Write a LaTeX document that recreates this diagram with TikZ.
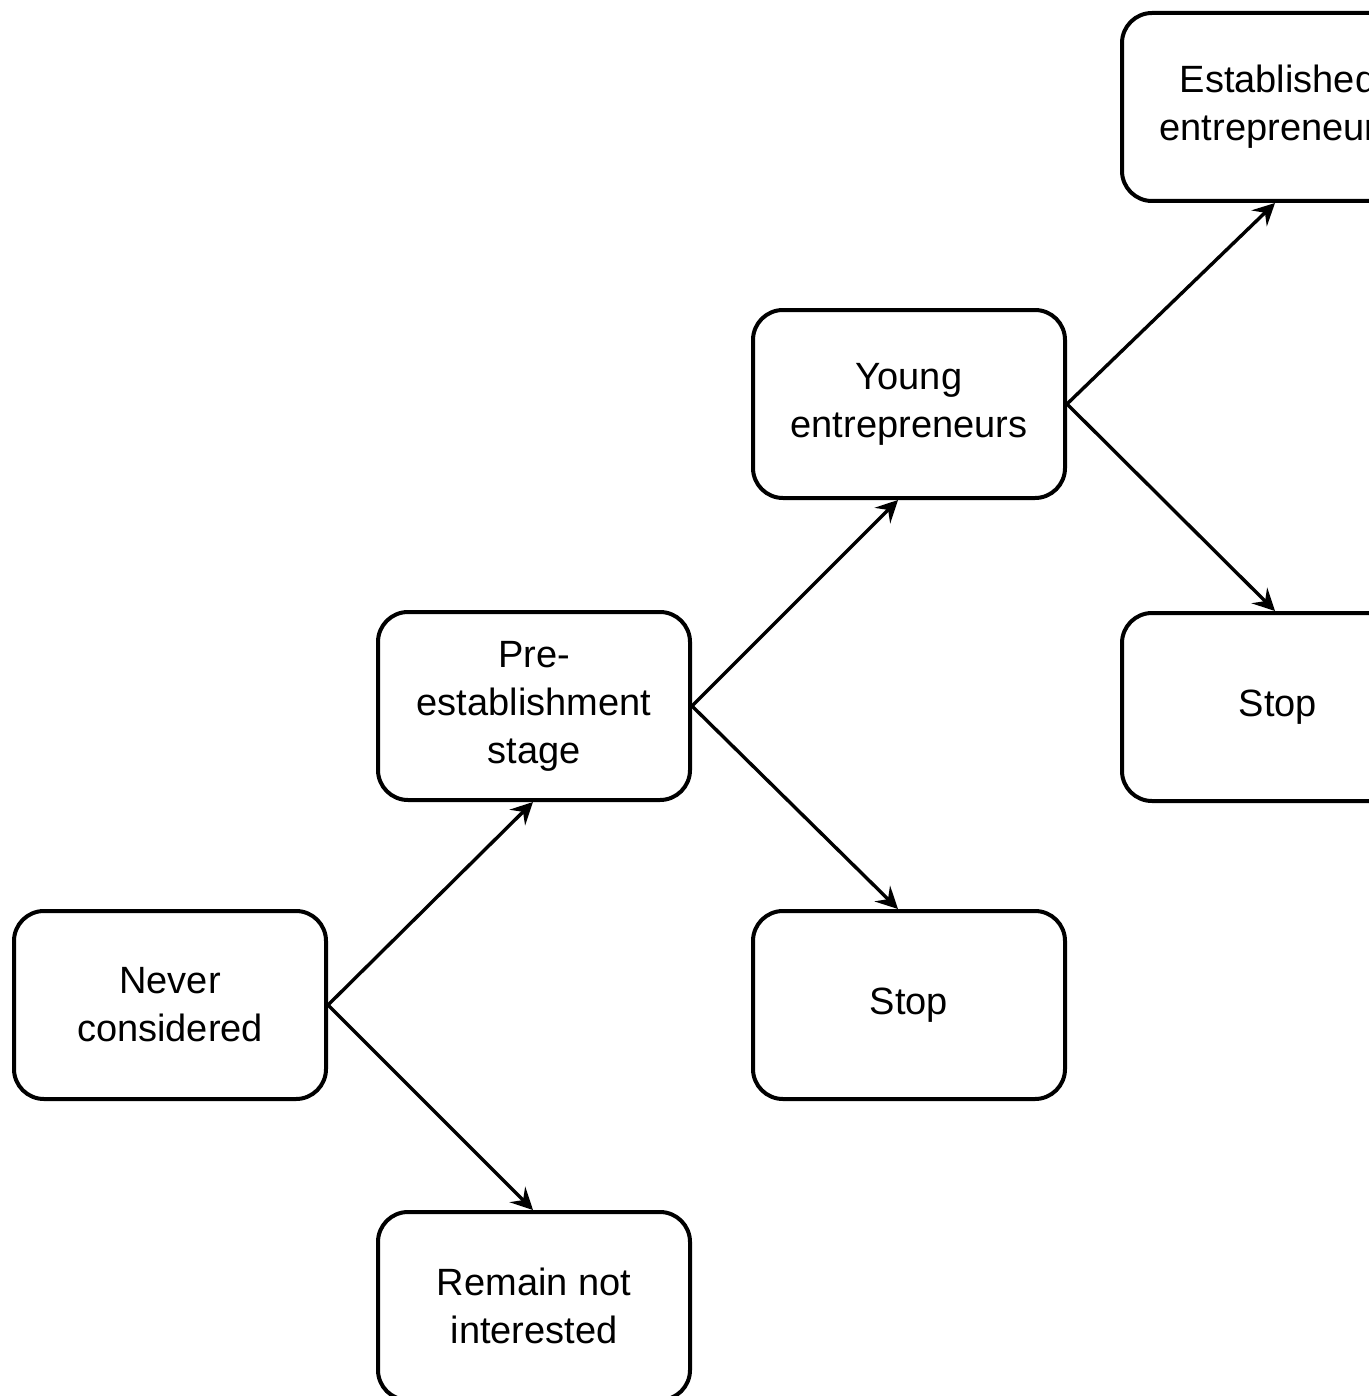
\documentclass[tikz,border=0pt]{standalone}
\usepackage{fontspec}
\setmainfont{Liberation Sans}
\usetikzlibrary{arrows.meta}

\begin{document}
\begin{tikzpicture}[
    x=0.5pt, y=-0.5pt,
    stage/.style={rectangle, rounded corners=15pt, draw=black, line width=2pt, minimum width=156pt, minimum height=94pt, align=center, font=\fontsize{19}{24}\selectfont},
    arrow/.style={-{Stealth[length=11pt, width=11pt, inset=4pt]}, line width=1.7pt}
]
\useasboundingbox (0,0) rectangle (1369,1396);
\clip (0,0) rectangle (1369,1396);

% Stages
\node[stage] (never) at (170,1005) {Never\\considered};
\node[stage] (pre) at (534,706) {Pre-\\establishment\\stage};
\node[stage] (young) at (909,404) {Young\\entrepreneurs};
\node[stage] (established) at (1278,107) {Established\\entrepreneurs};

% Exits
\node[stage] (remain) at (534,1306) {Remain not\\interested};
\node[stage] (stop1) at (909,1005) {Stop};
\node[stage] (stop2) at (1278,707) {Stop};

% Arrows
\draw[arrow] (never.east) -- ([xshift=-0.5pt]pre.south);
\draw[arrow] (never.east) -- ([xshift=-0.5pt]remain.north);
\draw[arrow] (pre.east) -- ([xshift=-5.5pt]young.south);
\draw[arrow] (pre.east) -- ([xshift=-5.5pt]stop1.north);
\draw[arrow] (young.east) -- ([xshift=-1.5pt]established.south);
\draw[arrow] (young.east) -- ([xshift=-1.5pt]stop2.north);
\end{tikzpicture}
\end{document}
